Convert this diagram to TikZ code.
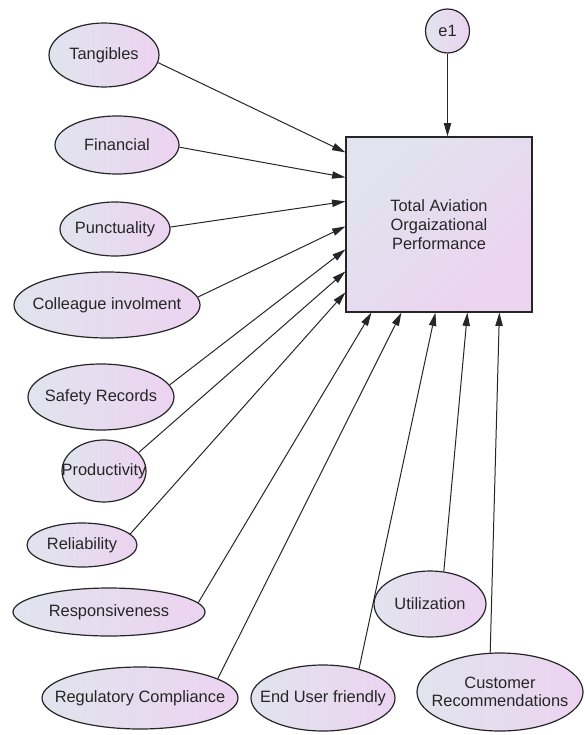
\documentclass[tikz,border=0pt]{standalone}
\usepackage{fontspec}
\setmainfont{Liberation Sans}
\usetikzlibrary{shapes.geometric,arrows.meta}
\definecolor{ovleft}{RGB}{225,228,238}
\definecolor{ovright}{RGB}{236,211,240}
\definecolor{linegray}{RGB}{38,38,38}
\tikzset{
  lat/.style 2 args={ellipse, draw=linegray, line width=0.9pt,
    left color=ovleft, right color=ovright, inner sep=0pt,
    minimum width=#1*1.5pt, minimum height=#2*1.5pt},
  obs/.style={rectangle, draw=linegray, line width=0.9pt,
    left color=ovleft, right color=ovright, shading angle=45,
    minimum width=139.5pt, minimum height=131.25pt, align=center}
}
\begin{document}
\begin{tikzpicture}[x=0.75pt, y=-0.75pt, font=\fontsize{12.3}{14}\selectfont, text=black!85]
      \useasboundingbox (0,0) rectangle (585,735);
      \node[obs] (perf) at (439,224.5) {Total Aviation\\Orgaizational\\Performance};
      \node[lat={22}{22}, label=center:e1] (e1) at (447.5,31) {};
      \node[lat={55}{32}, label=center:Tangibles] (tan) at (104,55) {};
      \node[lat={62}{29}, label=center:Financial] (fin) at (117,145) {};
      \node[lat={55}{27}, label=center:Punctuality] (pun) at (115,229) {};
      \node[lat={93}{33}, label=center:Colleague involment] (col) at (107,305) {};
      \node[lat={73}{33}, label=center:Safety Records] (saf) at (101,397) {};
      \node[lat={42}{31}, label=center:Productivity] (pro) at (104,471) {};
      \node[lat={55}{22}, label=center:Reliability] (rel) at (82,545) {};
      \node[lat={96}{24}, label=center:Responsiveness] (res) at (109,612) {};
      \node[lat={98}{31}, label=center:Regulatory Compliance] (reg) at (140,698) {};
      \node[lat={72}{33}, label=center:End User friendly] (usr) at (323,698) {};
      \node[lat={56}{33}, label=center:Utilization] (uti) at (430,604) {};
      \node[lat={83}{39}, label={[align=center]center:Customer\\Recommendations}] (cus) at (500,692) {};
      \foreach \n/\d in {l1/16, l2/41, l3/65, l4/90, l5/113, l6/135, l7/156}
        \path (perf.north west) ++(0,\d) coordinate (\n);
      \foreach \n/\d in {b1/26, b2/56, b3/90, b4/122, b5/154}
        \path (perf.south west) ++(\d,0) coordinate (\n);
      \begin{scope}[-{Triangle[length=10pt,width=5.5pt]}, linegray, line width=0.75pt]
        \draw (e1) to (e1 |- perf.north);
        \draw (tan.-8) to (l1);
        \draw (fin.-2) to (l2);
        \draw (pun.2) to (l3);
        \draw (col.5) to (l4);
        \draw (saf.10) to (l5);
        \draw (pro.28) to (l6);
        \draw (rel.13) to (l7);
        \draw (res.6) to (b1);
        \draw (reg.14) to (b2);
        \draw (usr.39) to (b3);
        \draw (uti.67) to (b4);
        \draw (cus.104) to (b5);
      \end{scope}
    \end{tikzpicture}
\end{document}
